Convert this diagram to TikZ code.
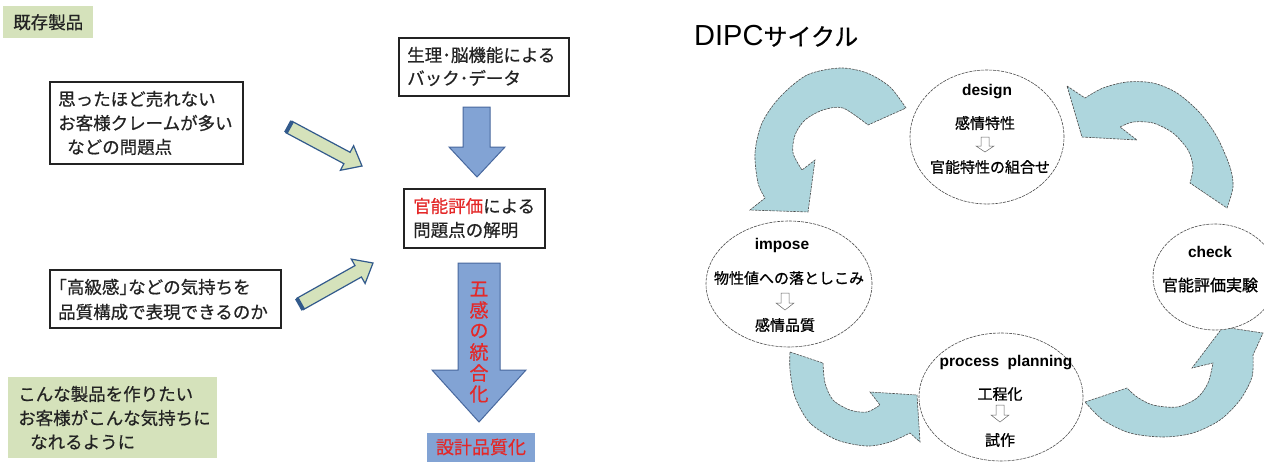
\documentclass[tikz,border=0pt]{standalone}
\usepackage{fontspec}
\setmainfont{Liberation Sans}
\newfontfamily\jp{Noto Sans CJK JP}[FakeBold=0.6]
\newfontfamily\jpe{Noto Sans CJK JP}[FakeBold=0.9]
\usetikzlibrary{shapes.geometric}
\definecolor{lgreen}{RGB}{213,226,187}
\definecolor{darkblue}{RGB}{50,90,140}
\definecolor{bluefill}{RGB}{130,163,212}
\definecolor{blueline}{RGB}{72,104,158}
\definecolor{cycfill}{RGB}{174,214,221}
\definecolor{jred}{RGB}{228,40,40}
\definecolor{ink}{RGB}{35,35,35}
\tikzset{
  box/.style={draw=ink, line width=1.5pt, fill=white, inner sep=0pt},
  gbox/.style={fill=lgreen, draw=none, inner sep=0pt},
  ltxt/.style={font=\jp\fontsize{17.5}{20}\selectfont, text=ink, inner sep=0pt, anchor=west},
  blockarrow/.style={fill=lgreen, draw=darkblue, line width=1.2pt, line join=miter},
  tailband/.style={draw=darkblue, line width=4pt},
  bluearrow/.style={fill=bluefill, draw=blueline, line width=1pt},
  cyclearrow/.style={fill=cycfill, draw=black!70, line width=0.6pt, dash pattern=on 2.5pt off 1pt},
  stage/.style={ellipse, draw=black!70, line width=0.6pt, dash pattern=on 3pt off 1pt, fill=white, inner sep=0pt},
  etxt/.style={font=\jpe\fontsize{15}{17}\selectfont, inner sep=0pt},
  elab/.style={font=\bfseries\fontsize{15.5}{17}\selectfont, inner sep=0pt},
  hollow/.style={draw=black!60, line width=0.5pt, fill=white},
  rtxt/.style={font=\jp\fontsize{19}{21}\selectfont, text=jred, inner sep=0pt}
}
\begin{document}
\begin{tikzpicture}[x=1pt,y=-1pt]
\useasboundingbox (0,0) rectangle (1264,461);
\fill[white] (0,0) rectangle (1264,461);

% ---------------- left part ----------------
\node[gbox, minimum width=90pt, minimum height=32pt, anchor=north west] (kizon) at (3,6) {};
\node[ltxt, anchor=center] (kizont) at (kizon.center) {既存製品};

\node[box, minimum width=193pt, minimum height=82pt, anchor=north west] (prob) at (49,81) {};
\node[ltxt] (p1) at (58,99) {思ったほど売れない};
\node[ltxt] (p2) at (58,123) {お客様クレームが多い};
\node[ltxt] (p3) at (67,147) {などの問題点};

\node[box, minimum width=231pt, minimum height=58pt, anchor=north west] (feel) at (49,269) {};
\node[ltxt] (f1) at (58,287) {｢高級感｣などの気持ちを};
\node[ltxt] (f2) at (58,312) {品質構成で表現できるのか};

\node[gbox, minimum width=209pt, minimum height=81pt, anchor=north west] (want) at (8,377) {};
\node[ltxt] (w1) at (18,394) {こんな製品を作りたい};
\node[ltxt] (w2) at (18,418) {お客様がこんな気持ちに};
\node[ltxt] (w3) at (30,442) {なれるように};

% green block arrows
\draw[blockarrow] (292.1,121.3) -- (350.1,152.3) -- (353.6,145.7) -- (362,166) -- (340.4,170.3) -- (343.9,163.7) -- (285.9,132.7) -- cycle;
\draw[tailband] (292.1,121.3) -- (285.9,132.7);
\draw[blockarrow] (296.8,298.3) -- (355.0,265.6) -- (351.3,259.1) -- (373,263) -- (365.1,283.5) -- (361.4,277.0) -- (303.2,309.7) -- cycle;
\draw[tailband] (296.8,298.3) -- (303.2,309.7);

% centre column
\node[box, minimum width=170pt, minimum height=58pt, anchor=north west] (brain) at (398,37) {};
\node[ltxt] (b1) at (407,55) {生理･脳機能による};
\node[ltxt] (b2) at (407,78) {バック･データ};

\draw[bluearrow] (463,107) -- (490,107) -- (490,147) -- (505,147) -- (477,177) -- (449,147) -- (463,147) -- cycle;

\node[box, minimum width=141pt, minimum height=59pt, anchor=north west] (kanno) at (403,188) {};
\node[ltxt] (k1) at (413,206) {\textcolor{jred}{官能評価}による};
\node[ltxt] (k2) at (413,230) {問題点の解明};

\draw[bluearrow] (458,263) -- (500,263) -- (500,370) -- (526,370) -- (479,422) -- (432,370) -- (458,370) -- cycle;
\node[rtxt] (v1) at (479,289) {五};
\node[rtxt] (v2) at (479,310) {感};
\node[rtxt] (v3) at (479,331) {の};
\node[rtxt] (v4) at (479,352) {統};
\node[rtxt] (v5) at (479,373) {合};
\node[rtxt] (v6) at (479,394) {化};

\node[fill=bluefill, minimum width=108pt, minimum height=30pt, inner sep=0pt, anchor=north west] (sekkei) at (427,433) {};
\node[rtxt, font=\jp\fontsize{18}{20}\selectfont] (sekkeit) at (481,447) {設計品質化};

% ---------------- right part: DIPC cycle ----------------
\node[inner sep=0pt, anchor=west] (title) at (694,36) {\fontsize{29}{32}\selectfont DIPC\jp\fontsize{24}{26}\selectfont サイクル};

% curved arrows
\draw[cyclearrow] plot[smooth] coordinates {(906,108) (890,87) (867,73) (840,68) (807,75) (780,97) (762,123) (755,153) (758,183) (765,198)} -- (750,210) -- (808,212) -- (815,160) -- plot[smooth] coordinates {(802,170) (793,153) (795,135) (805,120) (823,110) (843,108) (868,125)} -- cycle;

\draw[cyclearrow] (1067,86) -- plot[smooth] coordinates {(1085,98) (1103,88) (1127,82) (1153,83) (1177,93) (1200,113) (1217,137) (1230,167) (1233,187) (1227,208)} -- plot[smooth] coordinates {(1190,183) (1193,167) (1188,150) (1173,133) (1153,123) (1133,122) (1120,127)} -- (1137,140) -- (1082,137) -- cycle;

\draw[cyclearrow] (790,352) -- plot[smooth] coordinates {(823,363) (825,383) (833,400) (850,410) (867,412) (880,405)} -- (870,392) -- (917,395) -- (920,442) -- plot[smooth] coordinates {(910,433) (890,442) (867,446) (837,440) (810,423) (795,397) (790,370) (790,352)} -- cycle;

\draw[cyclearrow] (1085,402) -- plot[smooth] coordinates {(1127,388) (1137,397) (1153,405) (1177,407) (1197,398) (1208,383) (1213,363)} -- (1192,368) -- (1223,327) -- (1263,333) -- plot[smooth] coordinates {(1253,355) (1252,377) (1240,400) (1220,420) (1193,433) (1163,437) (1130,433) (1103,420) (1085,402)} -- cycle;

% stages
\node[stage, minimum width=154pt, minimum height=134pt] (design) at (987,137) {};
\node[elab] (designl) at (987,92) {design};
\node[etxt] (design1) at (985,123) {感情特性};
\draw[hollow] (981,137) -- (989,137) -- (989,146) -- (994,146) -- (985,152) -- (976,146) -- (981,146) -- cycle;
\node[etxt] (design2) at (990,167) {官能特性の組合せ};

\node[stage, minimum width=166pt, minimum height=126pt] (impose) at (789,284) {};
\node[elab] (imposel) at (782,245) {impose};
\node[etxt] (impose1) at (789,278) {物性値への落としこみ};
\draw[hollow] (781,293) -- (789,293) -- (789,303) -- (794,303) -- (785,310) -- (776,303) -- (781,303) -- cycle;
\node[etxt] (impose2) at (785,325) {感情品質};

\node[stage, minimum width=124pt, minimum height=106pt] (check) at (1215,277) {};
\node[elab] (checkl) at (1210,252) {check};
\node[etxt, font=\jpe\fontsize{16}{18}\selectfont] (check1) at (1210,285) {官能評価実験};

\node[stage, minimum width=164pt, minimum height=128pt] (process) at (1001,397) {};
\node[elab] (processl) at (1006,363) {process\ \ planning};
\node[etxt] (process1) at (1000,394) {工程化};
\draw[hollow] (996,405) -- (1004,405) -- (1004,415) -- (1009,415) -- (1000,422) -- (991,415) -- (996,415) -- cycle;
\node[etxt] (process2) at (1000,440) {試作};
\end{tikzpicture}
\end{document}
